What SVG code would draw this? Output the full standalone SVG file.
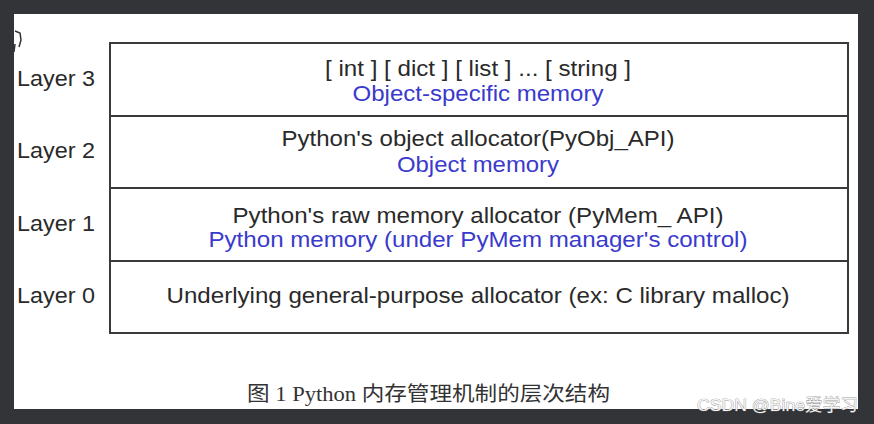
<svg xmlns="http://www.w3.org/2000/svg" width="874" height="424" viewBox="0 0 874 424">
<style>
.lbl{font-family:"Liberation Sans",Arial,sans-serif;font-size:22px;fill:#2a2a2a}
.t{font-family:"Liberation Sans",Arial,sans-serif;font-size:22px;fill:#2a2a2a;text-anchor:middle}
.b{fill:#3a3acc}
.row{fill:#fff;stroke:#3a3a3a;stroke-width:2}
.cap{font-family:"Liberation Serif","Noto Sans CJK SC",serif;font-size:20px;fill:#333}
.wm{font-family:"Liberation Sans","Noto Sans CJK SC",sans-serif;font-size:17px;fill:#f4f4f4;stroke:#777;stroke-width:0.6;paint-order:stroke}
</style>
<rect x="0" y="0" width="874" height="424" fill="#323438"/>
<rect x="14" y="14" width="844" height="395" fill="#ffffff"/>
<path d="M15 31 L20 33 L21 40 L19 47 M15 44 L14 52" fill="none" stroke="#333" stroke-width="1.5"/>
<g id="layer3">
<rect class="row" x="110" y="43" width="738" height="73"/>
<text class="lbl" x="17" y="86" textLength="78" lengthAdjust="spacingAndGlyphs">Layer 3</text>
<text class="t" x="478" y="76" textLength="306" lengthAdjust="spacingAndGlyphs">[ int ] [ dict ] [ list ] ... [ string ]</text>
<text class="t b" x="478" y="101" textLength="251" lengthAdjust="spacingAndGlyphs">Object-specific memory</text>
</g>
<g id="layer2">
<rect class="row" x="110" y="116" width="738" height="72"/>
<text class="lbl" x="17" y="158" textLength="78" lengthAdjust="spacingAndGlyphs">Layer 2</text>
<text class="t" x="478" y="146" textLength="393" lengthAdjust="spacingAndGlyphs">Python's object allocator(PyObj_API)</text>
<text class="t b" x="478" y="172" textLength="162" lengthAdjust="spacingAndGlyphs">Object memory</text>
</g>
<g id="layer1">
<rect class="row" x="110" y="188" width="738" height="73"/>
<text class="lbl" x="17" y="231" textLength="78" lengthAdjust="spacingAndGlyphs">Layer 1</text>
<text class="t" x="478" y="223" textLength="491" lengthAdjust="spacingAndGlyphs">Python's raw memory allocator (PyMem_ API)</text>
<text class="t b" x="478" y="247" textLength="539" lengthAdjust="spacingAndGlyphs">Python memory (under PyMem manager's control)</text>
</g>
<g id="layer0">
<rect class="row" x="110" y="261" width="738" height="72"/>
<text class="lbl" x="17" y="303" textLength="78" lengthAdjust="spacingAndGlyphs">Layer 0</text>
<text class="t" x="478" y="303" textLength="623" lengthAdjust="spacingAndGlyphs">Underlying general-purpose allocator (ex: C library malloc)</text>
</g>
<g id="connectors"></g>
<text class="cap" x="247" y="401" textLength="363" lengthAdjust="spacingAndGlyphs">图 1 Python 内存管理机制的层次结构</text>
<text class="wm" x="697" y="411" textLength="161" lengthAdjust="spacingAndGlyphs">CSDN @Bine爱学习</text>
</svg>
